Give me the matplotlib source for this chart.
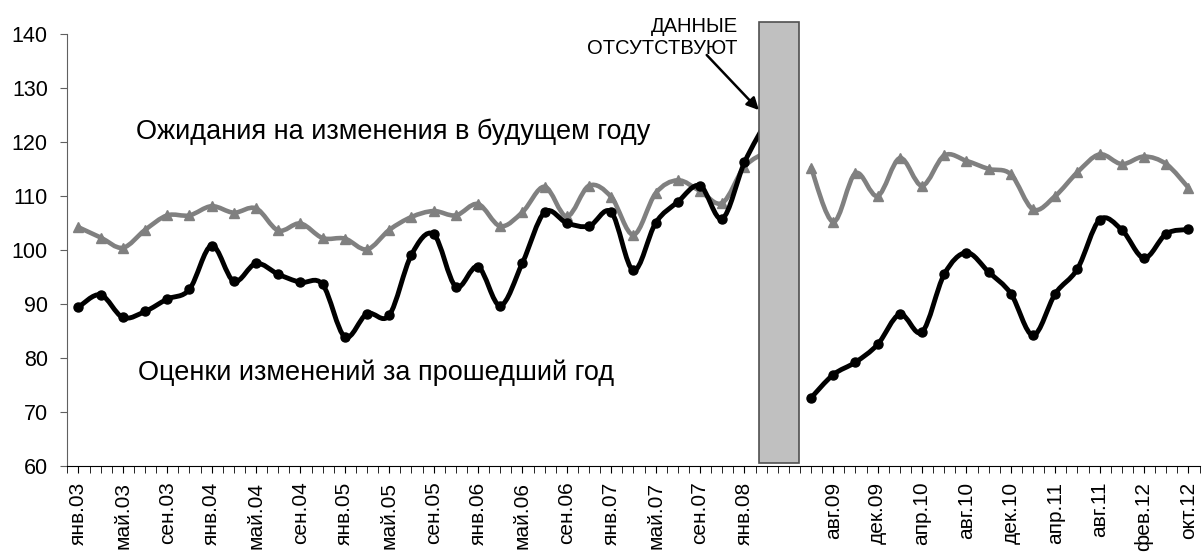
import matplotlib
matplotlib.use("Agg")
import matplotlib.pyplot as plt
from matplotlib.path import Path
from matplotlib.patches import PathPatch, Rectangle

plt.rcParams['font.family'] = ['Liberation Sans', 'DejaVu Sans']

# category slots (one per month-like tick), points every second slot
pre_idx = list(range(0, 63, 2))
post_idx = list(range(66, 101, 2))

expect_pre = [104.3, 102.4, 100.5, 103.8, 106.5, 106.5, 108.2, 107.0, 107.8, 103.7,
              105.0, 102.3, 102.2, 100.2, 103.8, 106.2, 107.3, 106.5, 108.6, 104.5,
              107.1, 111.8, 106.3, 112.0, 109.9, 102.9, 110.6, 113.0, 111.0, 108.8,
              115.5, 118.3]
assess_pre = [89.5, 91.8, 87.6, 88.7, 91.0, 92.8, 100.9, 94.3, 97.6, 95.6,
              94.1, 93.7, 84.0, 88.3, 88.0, 99.2, 103.0, 93.3, 97.0, 89.8,
              97.7, 107.1, 105.1, 104.5, 107.1, 96.3, 105.1, 109.0, 112.0, 105.9,
              116.3, 124.0]

expect_post = [115.3, 105.3, 114.3, 110.1, 117.1, 112.0, 117.6, 116.6, 115.1, 114.1,
               107.6, 110.1, 114.5, 117.8, 116.0, 117.4, 116.0, 111.6]
assess_post = [72.7, 77.0, 79.3, 82.6, 88.2, 84.9, 95.6, 99.6, 96.0, 92.0,
               84.3, 92.0, 96.6, 105.7, 103.8, 98.6, 103.1, 103.9]

tick_pos = [0, 4, 8, 12, 16, 20, 24, 28, 32, 36, 40, 44, 48, 52, 56, 60,
            68, 72, 76, 80, 84, 88, 92, 96, 100]
tick_labels = ['янв.03', 'май.03', 'сен.03', 'янв.04', 'май.04', 'сен.04',
               'янв.05', 'май.05', 'сен.05', 'янв.06', 'май.06', 'сен.06',
               'янв.07', 'май.07', 'сен.07', 'янв.08',
               'авг.09', 'дек.09', 'апр.10', 'авг.10', 'дек.10', 'апр.11',
               'авг.11', 'фев.12', 'окт.12']


def smooth_path(xs, ys):
    # Excel-like smoothed line: cubic Bezier through every point
    pts = list(zip(xs, ys))
    n = len(pts)
    verts = [pts[0]]
    codes = [Path.MOVETO]
    for i in range(n - 1):
        p0 = pts[max(i - 1, 0)]
        p1 = pts[i]
        p2 = pts[i + 1]
        p3 = pts[min(i + 2, n - 1)]
        c1 = (p1[0] + (p2[0] - p0[0]) / 6, p1[1] + (p2[1] - p0[1]) / 6)
        c2 = (p2[0] - (p3[0] - p1[0]) / 6, p2[1] - (p3[1] - p1[1]) / 6)
        verts += [c1, c2, p2]
        codes += [Path.CURVE4] * 3
    return Path(verts, codes)


fig = plt.figure(figsize=(12.02, 5.52), dpi=100)
ax = fig.add_axes([0.056, 0.155, 0.942, 0.7825])

grey = '#808080'
for xs, ys in [(pre_idx, expect_pre), (post_idx, expect_post)]:
    ax.add_patch(PathPatch(smooth_path(xs, ys), facecolor='none', edgecolor=grey,
                           lw=3.3, capstyle='round', joinstyle='round', zorder=2))
    ax.plot(xs, ys, ls='none', marker='^', ms=6.5, color=grey, zorder=2)

for xs, ys in [(pre_idx, assess_pre), (post_idx, assess_post)]:
    ax.add_patch(PathPatch(smooth_path(xs, ys), facecolor='none', edgecolor='black',
                           lw=3.5, capstyle='round', joinstyle='round', zorder=3))
    ax.plot(xs, ys, ls='none', marker='o', ms=6.5, color='black', zorder=3)

# "no data" bar
ax.add_patch(Rectangle((61.3, 60.6), 3.6, 81.8, facecolor='#c0c0c0',
                       edgecolor='#505050', lw=1.2, zorder=5, clip_on=False))

ax.set_xlim(-1, 101)
ax.set_ylim(60, 140)
ax.set_yticks(range(60, 141, 10))
ax.set_xticks(range(-1, 102), minor=True)
ax.set_xticks(tick_pos)
ax.set_xticklabels(tick_labels, rotation=90, fontsize=15)
ax.tick_params(axis='y', labelsize=15.5, length=5, pad=9, color='#606060')
ax.tick_params(axis='x', which='both', length=5, color='black', pad=6)

for s in ['top', 'right']:
    ax.spines[s].set_visible(False)
ax.spines['left'].set_color('#606060')
ax.spines['bottom'].set_color('black')

ax.text(5.2, 121.9, 'Ожидания на изменения в будущем году', fontsize=19.5, va='center')
ax.text(5.4, 77.4, 'Оценки изменений за прошедший год', fontsize=19.5, va='center')

ax.text(59.4, 139.4, 'ДАННЫЕ\nОТСУТСТВУЮТ', ha='right', va='center',
        multialignment='right', fontsize=14.5, zorder=6, clip_on=False)
ax.annotate('', xy=(61.3, 126.0), xytext=(56.6, 136.2), annotation_clip=False,
            zorder=7,
            arrowprops=dict(arrowstyle='-|>', color='black', lw=1.8,
                            mutation_scale=18, shrinkA=0, shrinkB=0))

fig.savefig('out.png', dpi=100)
